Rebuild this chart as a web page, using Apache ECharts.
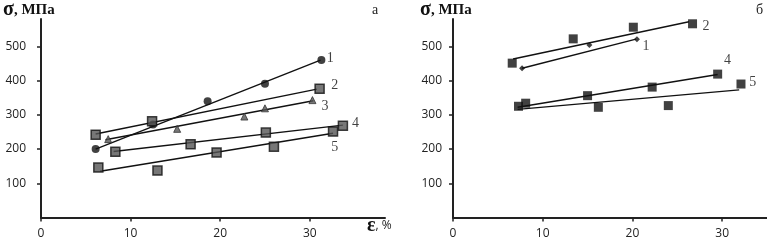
<!DOCTYPE html>
<html>
<head>
<meta charset="utf-8">
<script src="https://cdn.jsdelivr.net/npm/echarts@6/dist/echarts.min.js"></script>
<style>
  html, body { margin: 0; padding: 0; background: #fff; }
  #chart { width: 767px; height: 247px; }
</style>
</head>
<body>
<div id="chart"></div>
<script>
// Panel "а": measured points and fitted lines (ε, % ; σ, МПа)
const A_PTS = {
  1: [[6.1, 200], [12.5, 272], [18.6, 340], [25.0, 391], [31.3, 460]],
  2: [[6.1, 242], [12.4, 281], [31.1, 376]],
  3: [[7.5, 229], [15.2, 259], [22.7, 295], [25.0, 319], [30.3, 343]],
  4: [[8.3, 192], [16.7, 214], [25.1, 248], [33.7, 268]],
  5: [[6.4, 146], [13.0, 137], [19.6, 190], [26.0, 207], [32.6, 251]],
};
const A_FIT = {
  1: [[6.1, 200], [31.2, 460]],
  2: [[6.1, 244], [30.8, 375]],
  3: [[7.2, 227], [30.4, 341]],
  4: [[8.1, 193], [33.7, 270]],
  5: [[6.6, 135], [32.6, 246]],
};
const A_LABELS = [[32.3, 465, '1'], [32.8, 387, '2'], [31.7, 324, '3'], [35.1, 275, '4'], [32.8, 205, '5']];

// Panel "б"
const B_PTS = {
  1: [[7.7, 436], [15.2, 504], [20.5, 521]],
  2: [[6.6, 451], [13.4, 522], [20.1, 556], [26.7, 566]],
  4: [[8.1, 334], [15.0, 356], [22.2, 381], [29.5, 419]],
  5: [[7.3, 325], [16.2, 322], [24.0, 327], [32.1, 390]],
};
const B_FIT = {
  1: [[7.7, 436], [20.4, 521]],
  2: [[6.7, 463], [26.3, 572]],
  4: [[7.2, 322], [29.5, 418]],
  5: [[7.2, 316], [31.9, 373]],
};
const B_LABELS = [[28.2, 560, '2'], [21.5, 499, '1'], [30.6, 458, '4'], [33.4, 394, '5']];

const X_TICKS = [0, 10, 20, 30];
const Y_TICKS = [100, 200, 300, 400, 500];

const TICK_FONT = '"Open Sans", "Liberation Sans", sans-serif';
const SERIF = '"Liberation Serif", "DejaVu Serif", serif';

const MARK = {
  a1: { symbol: 'circle', symbolSize: 8, itemStyle: { color: '#111' } },
  a2: { symbol: 'rect', symbolSize: 9, itemStyle: { color: '#555', borderColor: '#111', borderWidth: 1.5 } },
  a3: { symbol: 'triangle', symbolSize: 7, itemStyle: { color: '#555', borderColor: '#333', borderWidth: 1 } },
  a4: { symbol: 'rect', symbolSize: 9, itemStyle: { color: '#555', borderColor: '#111', borderWidth: 1.5 } },
  a5: { symbol: 'rect', symbolSize: 9, itemStyle: { color: '#555', borderColor: '#111', borderWidth: 1.5 } },
  b1: { symbol: 'diamond', symbolSize: 6, itemStyle: { color: '#111' } },
  b2: { symbol: 'rect', symbolSize: 9, itemStyle: { color: '#111' } },
  b4: { symbol: 'rect', symbolSize: 9, itemStyle: { color: '#111' } },
  b5: { symbol: 'rect', symbolSize: 9, itemStyle: { color: '#111' } },
};

function xAxis(gi, max) {
  return {
    gridIndex: gi, type: 'value', min: 0, max, interval: 10,
    splitLine: { show: false },
    axisLine: { lineStyle: { color: '#222', width: 2 } },
    axisTick: { show: true, length: 4, lineStyle: { color: '#222', width: 1.5 },
                customValues: X_TICKS },
    axisLabel: { color: '#222', fontSize: 12, fontFamily: TICK_FONT, margin: 10,
                 customValues: X_TICKS },
  };
}
function yAxis(gi, margin) {
  return {
    gridIndex: gi, type: 'value', min: 0, max: 580, interval: 100,
    splitLine: { show: false },
    axisLine: { lineStyle: { color: '#222', width: 2 } },
    axisTick: { show: true, length: 4, lineStyle: { color: '#222', width: 1.5 },
                customValues: Y_TICKS },
    axisLabel: { color: '#222', fontSize: 12, fontFamily: TICK_FONT, margin,
                 customValues: Y_TICKS },
  };
}

const series = [];
function addPanel(gi, pts, fits, labels, prefix) {
  Object.keys(fits).forEach(k => {
    series.push({
      type: 'line', xAxisIndex: gi, yAxisIndex: gi, data: fits[k],
      symbol: 'none', silent: true, z: 2,
      lineStyle: { color: '#111', width: 1.4 },
    });
  });
  Object.keys(pts).forEach(k => {
    series.push(Object.assign({
      type: 'scatter', xAxisIndex: gi, yAxisIndex: gi, data: pts[k], z: 3,
    }, MARK[prefix + k]));
  });
  series.push({
    type: 'scatter', xAxisIndex: gi, yAxisIndex: gi, symbolSize: 0,
    data: labels.map(([x, y, t]) => ({ value: [x, y], name: t })),
    label: { show: true, position: 'inside', formatter: '{b}',
             color: '#111', fontSize: 14, fontFamily: SERIF },
  });
}
addPanel(0, A_PTS, A_FIT, A_LABELS, 'a');
addPanel(1, B_PTS, B_FIT, B_LABELS, 'b');

const sigma = {
  text: '{s|σ}{t|, МПа}', rich: {
    s: { fontSize: 20, fontWeight: 'bold', fontFamily: SERIF, fill: '#111' },
    t: { fontSize: 15, fontWeight: 'bold', fontFamily: SERIF, fill: '#111' } },
};

const chart = echarts.init(document.getElementById('chart'));
chart.setOption({
  animation: false,
  backgroundColor: '#fff',
  grid: [
    { left: 41, top: 19, width: 344, height: 198.5 },
    { left: 453, top: 19, width: 314, height: 198.5 },
  ],
  xAxis: [xAxis(0, 38.4), xAxis(1, 35)],
  yAxis: [yAxis(0, 15), yAxis(1, 11)],
  series,
  graphic: [
    { type: 'text', left: 3, top: 0, style: sigma },
    { type: 'text', left: 420, top: 0, style: sigma },
    { type: 'text', left: 367, top: 216, style: {
        text: '{s|ε}{t|, %}', rich: {
          s: { fontSize: 20, fontWeight: 'bold', fontFamily: SERIF, fill: '#111' },
          t: { fontSize: 12, fontFamily: TICK_FONT, fill: '#222' } } } },
    { type: 'text', left: 372, top: 3, style: { text: 'а', fontSize: 14, fontFamily: SERIF, fill: '#222' } },
    { type: 'text', left: 756, top: 3, style: { text: 'б', fontSize: 14, fontFamily: SERIF, fill: '#222' } },
  ],
});
</script>
</body>
</html>
